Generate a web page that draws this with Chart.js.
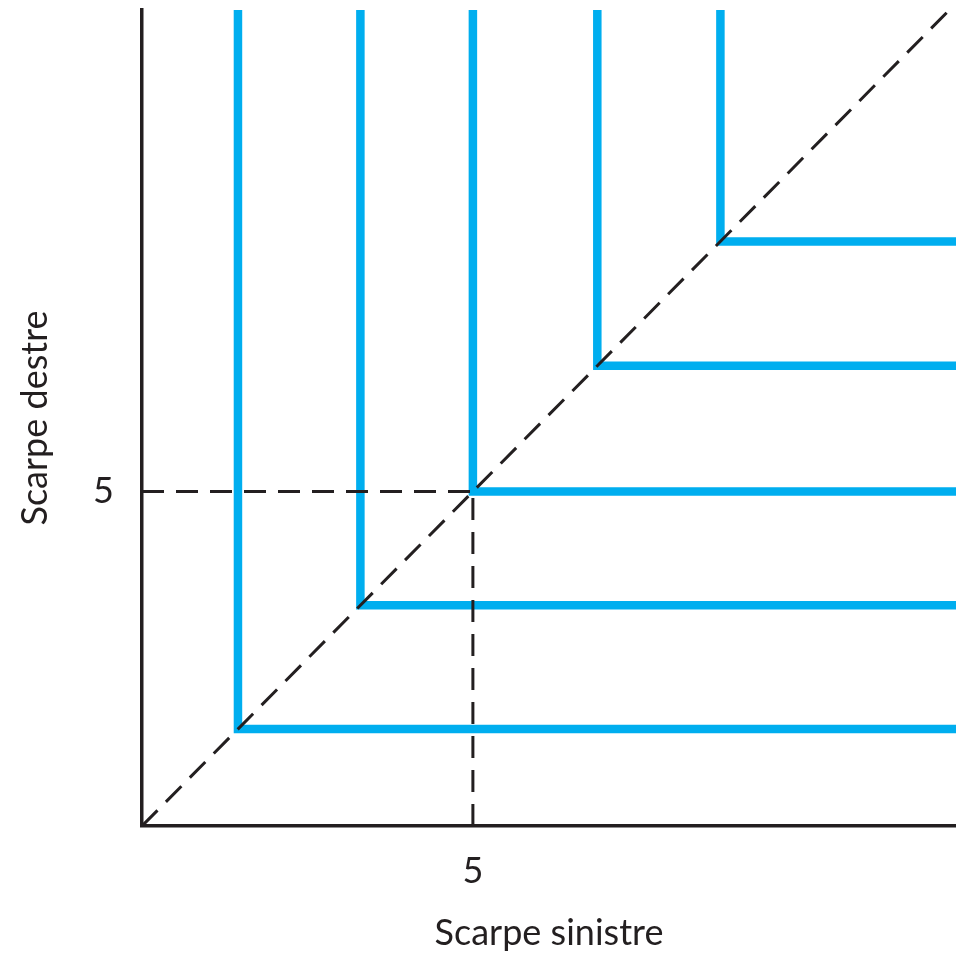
<!DOCTYPE html>
<html>
<head>
<meta charset="utf-8">
<script src="https://cdn.jsdelivr.net/npm/chart.js@4.4.1/dist/chart.umd.min.js"></script>
<style>
    html, body { margin: 0; padding: 0; background: #fff; }
    canvas { display: block; }
</style>
</head>
<body>
<canvas id="chart" width="956" height="957"></canvas>
<script>
// Corner points of the L-shaped indifference curves (left shoe = right shoe)
const corners = [1.45, 3.3, 5, 6.88, 8.74];
const xTicks = [5];
const yTicks = [5];
const xMax = 12.3;
const yMax = 12.2;
const xTitle = 'Scarpe sinistre';
const yTitle = 'Scarpe destre';

const BLUE = '#00aeef';
const INK = '#231f20';
const FONT = 'Lato';

function buildDatasets() {
    const sets = [];
    // diagonal y = x
    sets.push({
        data: [{ x: 0, y: 0 }, { x: xMax, y: xMax }],
        borderColor: INK,
        borderWidth: 3,
        borderDash: [22, 12]
    });
    // reference lines at 5
    sets.push({
        data: [{ x: 0, y: yTicks[0] }, { x: xTicks[0], y: yTicks[0] }],
        borderColor: INK,
        borderWidth: 3,
        borderDash: [22, 12]
    });
    sets.push({
        data: [{ x: xTicks[0], y: 0 }, { x: xTicks[0], y: yTicks[0] }],
        borderColor: INK,
        borderWidth: 3,
        borderDash: [22, 12]
    });
    corners.forEach(c => {
        sets.push({
            data: [{ x: c, y: yMax }, { x: c, y: c }, { x: xMax, y: c }],
            borderColor: BLUE,
            borderWidth: 8.5,
            borderJoinStyle: 'miter',
            borderCapStyle: 'butt'
        });
    });
    return sets;
}

// fixed box sizes, and no extra padding for the single tick label
function fitY(scale) {
    scale.width = 142;
    scale.paddingTop = 0;
    scale.paddingBottom = 0;
}

function fitX(scale) {
    scale.height = 131;
    scale.paddingLeft = 0;
    scale.paddingRight = 0;
}

const ctx = document.getElementById('chart').getContext('2d');
new Chart(ctx, {
    type: 'scatter',
    data: { datasets: buildDatasets() },
    options: {
        responsive: false,
        animation: false,
        devicePixelRatio: 1,
        showLine: true,
        layout: { padding: { top: 10, right: 0, left: 0, bottom: 0 } },
        elements: { point: { radius: 0, hoverRadius: 0 }, line: { tension: 0 } },
        plugins: { legend: { display: false }, tooltip: { enabled: false } },
        scales: {
            x: {
                type: 'linear',
                min: 0,
                max: xMax,
                grid: { display: false, drawTicks: false },
                border: { display: true, color: INK, width: 3.5 },
                afterBuildTicks: scale => { scale.ticks = xTicks.map(v => ({ value: v })); },
                afterFit: fitX,
                ticks: {
                    padding: 24,
                    color: INK,
                    font: { family: FONT, size: 36 },
                    maxRotation: 0
                },
                title: {
                    display: true,
                    text: xTitle,
                    color: INK,
                    font: { family: FONT, size: 36 },
                    padding: { top: 0, bottom: 2 }
                }
            },
            y: {
                type: 'linear',
                min: 0,
                max: yMax,
                grid: { display: false, drawTicks: false },
                border: { display: true, color: INK, width: 3.5 },
                afterBuildTicks: scale => { scale.ticks = yTicks.map(v => ({ value: v })); },
                afterFit: fitY,
                ticks: {
                    padding: 28,
                    color: INK,
                    font: { family: FONT, size: 36 }
                },
                title: {
                    display: true,
                    text: yTitle,
                    color: INK,
                    font: { family: FONT, size: 36 },
                    padding: { top: 14, bottom: 0 }
                }
            }
        }
    }
});
</script>
</body>
</html>
